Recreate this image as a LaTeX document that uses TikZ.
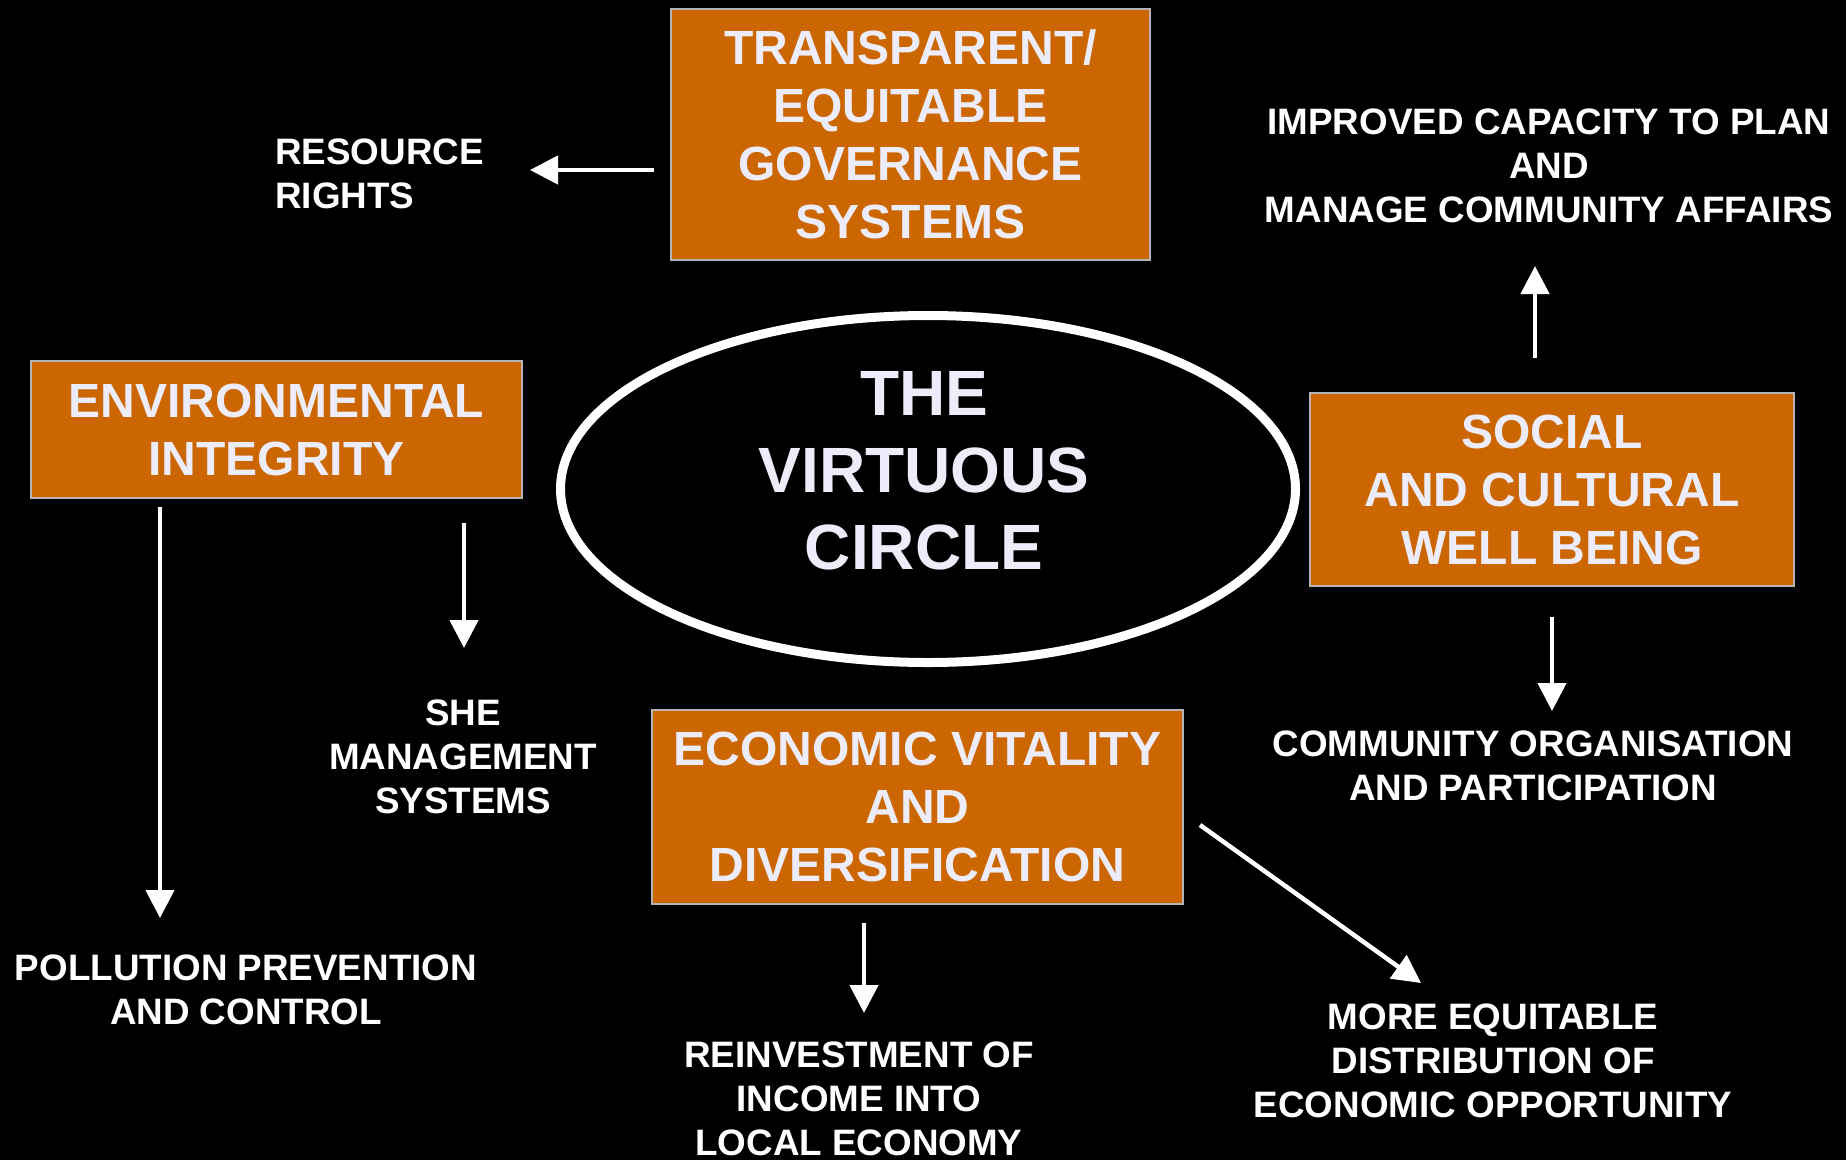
\documentclass[tikz,border=0pt]{standalone}
\usepackage{fontspec}
\setmainfont{Liberation Sans}
\usetikzlibrary{positioning,arrows.meta,shapes.geometric}
\definecolor{boxorange}{RGB}{204,102,0}
\definecolor{boxtext}{RGB}{236,236,250}
\definecolor{boxline}{RGB}{180,180,180}

\begin{document}
\begin{tikzpicture}[x=1pt, y=-1pt,
  box/.style={draw=boxline, line width=1.5pt, fill=boxorange, text=boxtext, align=center, inner sep=0pt, font=\bfseries\fontsize{48}{58}\selectfont},
  lbl/.style={text=white, align=center, inner sep=0pt, font=\bfseries\fontsize{36.8}{44}\selectfont},
  arr/.style={draw=white, line width=4.5pt, -{Triangle[width=28pt,length=28pt]}}]
\useasboundingbox (0,0) rectangle (1846,1160);
\fill[black] (0,0) rectangle (1846,1160);
\tikzstyle{title}=[text=boxtext, align=center, inner sep=0pt, font=\bfseries\fontsize{64}{77}\selectfont]
% the four pillars
\node[box, minimum width=479pt, minimum height=251pt] (gov) at (910.5,134.5) {TRANSPARENT/\\EQUITABLE\\GOVERNANCE\\SYSTEMS};
\node[box, minimum width=491pt, minimum height=137pt] (env) at (276.5,429.5) {ENVIRONMENTAL\\INTEGRITY};
\node[box, minimum width=484pt, minimum height=193pt] (soc) at (1552,489.5) {SOCIAL\\AND CULTURAL\\WELL BEING};
\node[box, minimum width=531pt, minimum height=194pt] (eco) at (917.5,807) {ECONOMIC VITALITY\\AND\\DIVERSIFICATION};
% centre
\node[draw=white, line width=9pt, ellipse, minimum width=735pt, minimum height=347pt, inner sep=0pt] (vc) at (928,489) {};
\node[title] (vct) at (924,471) {THE\\VIRTUOUS\\CIRCLE};
% outcomes
\node[lbl, align=left, anchor=west] (res) at (275,174) {RESOURCE\\RIGHTS};
\node[lbl] (imp) at (1549,166) {IMPROVED CAPACITY TO PLAN\\AND\\MANAGE COMMUNITY AFFAIRS};
\node[lbl] (com) at (1533,766) {COMMUNITY ORGANISATION\\AND PARTICIPATION};
\node[lbl] (she) at (463,757) {SHE\\MANAGEMENT\\SYSTEMS};
\node[lbl] (pol) at (246,990) {POLLUTION PREVENTION\\AND CONTROL};
\node[lbl] (rei) at (859,1099) {REINVESTMENT OF\\INCOME INTO\\LOCAL ECONOMY};
\node[lbl] (meq) at (1493,1061) {MORE EQUITABLE\\DISTRIBUTION OF\\ECONOMIC OPPORTUNITY};
% arrow tips
\coordinate (tres) at (530,170);
\coordinate (timp) at (1535,266);
\coordinate (tcom) at (1552,711);
\coordinate (tpol) at (160,918);
\coordinate (tshe) at (464,648);
\coordinate (trei) at (864,1013);
\coordinate (seco) at (1200,825);
\coordinate (tmeq) at (1421,983);
\foreach \s/\t/\g in {gov.west |- tres/tres/16, soc.north -| timp/timp/34, soc.south/tcom/30, env.south -| tpol/tpol/8, env.south -| tshe/tshe/24, eco.south -| trei/trei/18, seco/tmeq/0}{\draw[arr, shorten <=\g pt] (\s) -- (\t);}
\end{tikzpicture}
\end{document}
